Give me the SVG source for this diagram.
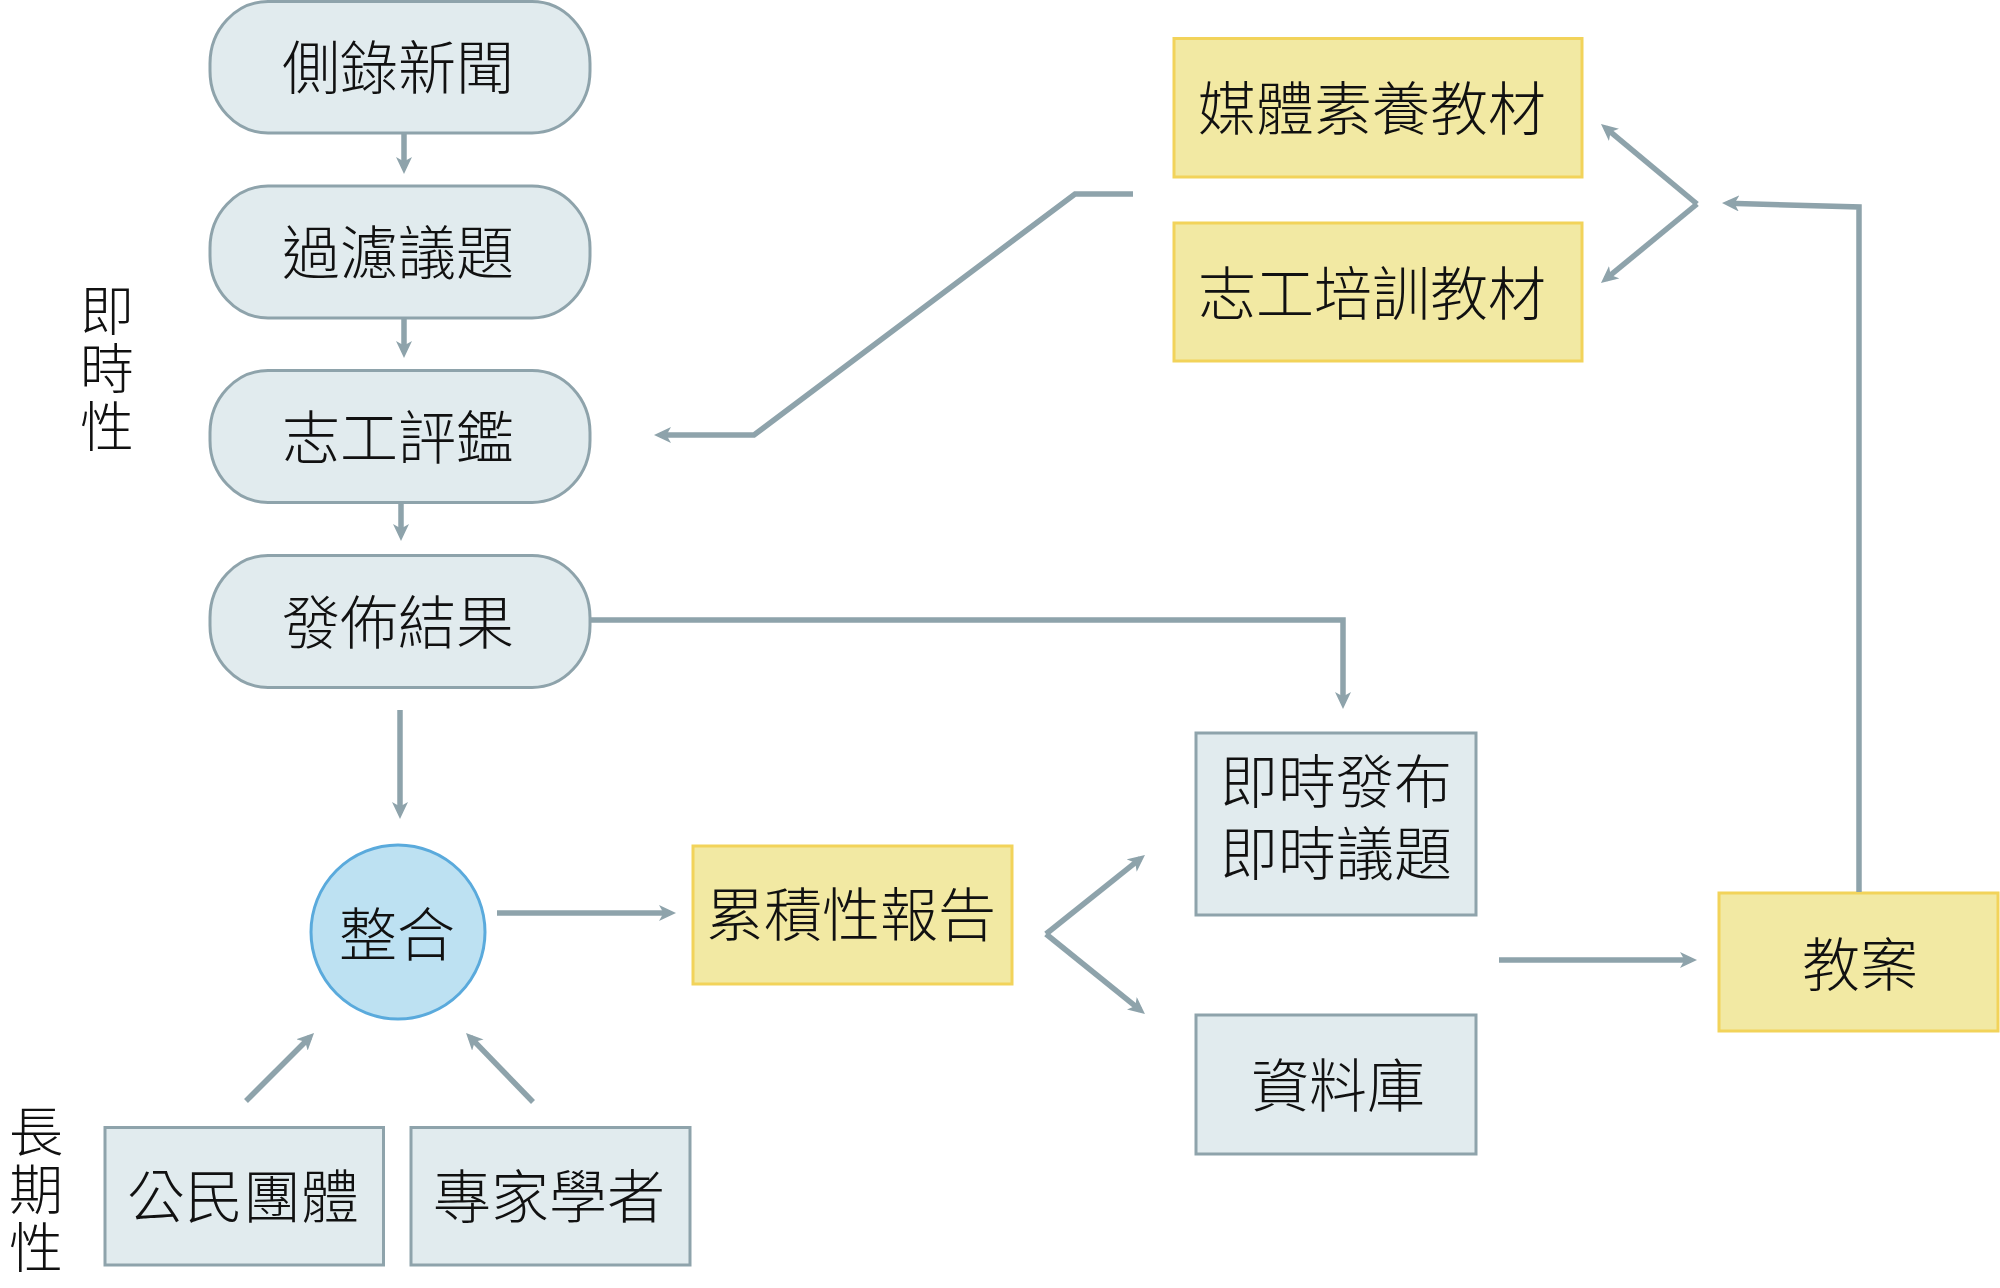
<svg xmlns="http://www.w3.org/2000/svg" width="2000" height="1288" viewBox="0 0 2000 1288">
<defs>
<style>
.pill{fill:#e1ebee;stroke:#8ea3ab;stroke-width:3}
.box{fill:#e1ebee;stroke:#8ea3ab;stroke-width:3}
.ybox{fill:#f2e9a3;stroke:#f2d35a;stroke-width:3}
.circ{fill:#bde1f2;stroke:#5aaadc;stroke-width:3}
.t{font-family:"Noto Sans CJK TC","Noto Sans CJK SC",sans-serif;font-size:58px;font-weight:300;fill:#111;text-anchor:middle}
.v{font-size:54px;writing-mode:vertical-rl;text-anchor:start;letter-spacing:4px}
.conn{fill:none;stroke:#8ea3ab;stroke-width:5.5;stroke-linejoin:miter;marker-end:url(#ah)}
</style>
<marker id="ah" markerUnits="userSpaceOnUse" markerWidth="17" markerHeight="16" refX="11" refY="8" orient="auto">
<path d="M0,0 L17,8 L0,16 L4.5,8 z" fill="#8ea3ab"/>
</marker>
</defs>

<g id="label-immediate">
<text class="t v" x="107" y="283">即時性</text>
</g>
<g id="label-longterm">
<text class="t v" x="36" y="1104">長期性</text>
</g>

<g id="n1"><rect class="pill" x="210" y="1.5" width="380" height="131.5" rx="58" ry="62"/><text class="t" x="398" y="89">側錄新聞</text></g>
<g id="n2"><rect class="pill" x="210" y="186" width="380" height="132" rx="58" ry="62"/><text class="t" x="398" y="274">過濾議題</text></g>
<g id="n3"><rect class="pill" x="210" y="370.5" width="380" height="132" rx="58" ry="62"/><text class="t" x="398" y="459">志工評鑑</text></g>
<g id="n4"><rect class="pill" x="210" y="555.5" width="380" height="132" rx="58" ry="62"/><text class="t" x="398" y="644">發佈結果</text></g>

<g id="n5"><rect class="ybox" x="1174" y="38.5" width="408" height="138.5"/><text class="t" x="1372" y="130">媒體素養教材</text></g>
<g id="n6"><rect class="ybox" x="1174" y="223" width="408" height="138"/><text class="t" x="1372" y="315">志工培訓教材</text></g>

<g id="n7"><circle class="circ" cx="398" cy="932" r="87"/><text class="t" x="397" y="956">整合</text></g>
<g id="n8"><rect class="ybox" x="693" y="846" width="319" height="138"/><text class="t" x="851" y="936">累積性報告</text></g>

<g id="n9"><rect class="box" x="105" y="1127.5" width="278.5" height="137.5"/><text class="t" x="243" y="1218">公民團體</text></g>
<g id="n10"><rect class="box" x="411" y="1127.5" width="279" height="137.5"/><text class="t" x="549" y="1218">專家學者</text></g>

<g id="n11"><rect class="box" x="1196" y="733" width="280" height="182"/><text class="t" x="1336" y="803">即時發布<tspan x="1336" dy="72">即時議題</tspan></text></g>
<g id="n12"><rect class="box" x="1196" y="1015" width="280" height="139"/><text class="t" x="1338" y="1107">資料庫</text></g>
<g id="n13"><rect class="ybox" x="1719" y="893" width="279" height="138"/><text class="t" x="1860" y="986">教案</text></g>

<g id="connectors">
<path class="conn" d="M404,133 L404,168"/>
<path class="conn" d="M404,318 L404,352"/>
<path class="conn" d="M401,503 L401,535"/>
<path class="conn" d="M590,620 L1343,620 L1343,703"/>
<path class="conn" d="M400,710 L400,813"/>
<path class="conn" d="M497,913 L670,913"/>
<path class="conn" d="M246,1101 L309.8,1037.2"/>
<path class="conn" d="M533,1102 L470.2,1037.2"/>
<path class="conn" d="M1046,934 L1140.3,858.7"/>
<path class="conn" d="M1046,934 L1140.3,1010.2"/>
<path class="conn" d="M1499,960 L1691,960"/>
<path class="conn" d="M1859,892 L1859,207 L1728,203.2"/>
<path class="conn" d="M1697,204 L1605.6,127.8"/>
<path class="conn" d="M1697,204 L1605.6,279.2"/>
<path class="conn" d="M1133,194 L1075,194 L754,435 L660,435"/>
</g>
</svg>
